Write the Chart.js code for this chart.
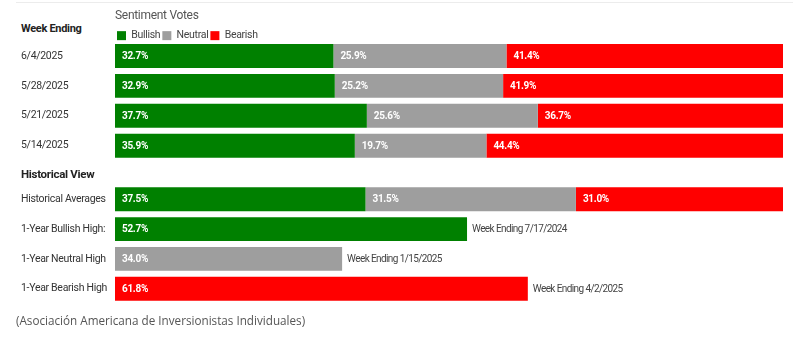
<!DOCTYPE html>
<html lang="es">
<head>
    <meta charset="UTF-8">
    <title>Sentiment Votes</title>
    <script src="https://cdn.jsdelivr.net/npm/chart.js"></script>
    <style>
        body { margin: 0; width: 795px; height: 340px; background: #fff; position: relative; overflow: hidden; font-family: Roboto, sans-serif; }
        .topline { position: absolute; left: 16px; right: 2px; top: 2px; height: 1px; background: #ececec; }
        .head { position: absolute; left: 21px; font-weight: bold; color: #222; letter-spacing: -0.3px; }
        .box { position: absolute; left: 0; width: 795px; }
        .source { position: absolute; left: 16px; top: 312px; font-family: 'Open Sans', sans-serif; font-size: 11.7px; color: #555; }
    </style>
</head>
<body>
    <div class="topline"></div>
    <div class="head" style="top:22px;font-size:11px;">Week Ending</div>
    <div class="box" style="top:0;height:170px;"><canvas id="weeklyChart"></canvas></div>
    <div class="head" style="top:167px;font-size:11.5px;">Historical View</div>
    <div class="box" style="top:175px;height:138px;"><canvas id="historyChart"></canvas></div>
    <div class="source">(Asociación Americana de Inversionistas Individuales)</div>

    <script>
        // Datos semanales
        const weeks = ['6/4/2025', '5/28/2025', '5/21/2025', '5/14/2025'];
        const weekBullish = [32.7, 32.9, 37.7, 35.9];
        const weekNeutral = [25.9, 25.2, 25.6, 19.7];
        const weekBearish = [41.4, 41.9, 36.7, 44.4];

        // Vista histórica
        const histRows = ['Historical Averages', '1-Year Bullish High:', '1-Year Neutral High', '1-Year Bearish High'];
        const histBullish = [37.5, 52.7, null, null];
        const histNeutral = [31.5, null, 34.0, null];
        const histBearish = [31.0, null, null, 61.8];
        const histNotes = ['', 'Week Ending 7/17/2024', 'Week Ending 1/15/2025', 'Week Ending 4/2/2025'];

        const GREEN = '#008000', GRAY = '#9e9e9e', RED = '#ff0000';
        const FONT = 'Roboto, sans-serif';

        // texto un poco más estrecho, como en el original
        const tightText = {
            id: 'tightText',
            beforeLayout(chart) { chart.ctx.letterSpacing = '-0.3px'; },
            beforeDraw(chart) { chart.ctx.letterSpacing = '-0.3px'; }
        };

        // etiquetas blancas dentro de cada barra + notas a la derecha
        const barLabels = {
            id: 'barLabels',
            afterDatasetsDraw(chart, args, opts) {
                const ctx = chart.ctx;
                ctx.save();
                ctx.textBaseline = 'middle';
                ctx.textAlign = 'left';
                ctx.letterSpacing = '-0.3px';
                const lastEnd = [];
                chart.data.datasets.forEach((ds, i) => {
                    const meta = chart.getDatasetMeta(i);
                    meta.data.forEach((bar, j) => {
                        const v = ds.data[j];
                        if (v === null || v === undefined) return;
                        ctx.font = 'bold 10px ' + FONT;
                        ctx.fillStyle = '#fff';
                        ctx.fillText(v.toFixed(1) + '%', bar.base + 7, bar.y + 0.5);
                        lastEnd[j] = { x: bar.x, y: bar.y };
                    });
                });
                if (opts.notes) {
                    ctx.font = '10px ' + FONT;
                    ctx.letterSpacing = '-0.6px';
                    ctx.fillStyle = '#444';
                    opts.notes.forEach((t, j) => {
                        if (t && lastEnd[j]) ctx.fillText(t, lastEnd[j].x + 5, lastEnd[j].y + 0.5);
                    });
                }
                ctx.restore();
            }
        };

        function scales() {
            return {
                x: { stacked: true, min: 0, max: 100, display: false },
                y: {
                    stacked: true,
                    grid: { display: false },
                    border: { display: false },
                    ticks: { crossAlign: 'far', color: '#333', font: { family: FONT, size: 10.5 } },
                    afterFit: (s) => { s.width = 94; }
                }
            };
        }

        function sets(b, n, r) {
            const common = { barPercentage: 0.8, categoryPercentage: 1 };
            return [
                Object.assign({ label: 'Bullish', data: b, backgroundColor: GREEN }, common),
                Object.assign({ label: 'Neutral', data: n, backgroundColor: GRAY }, common),
                Object.assign({ label: 'Bearish', data: r, backgroundColor: RED }, common)
            ];
        }

        new Chart(document.getElementById('weeklyChart'), {
            type: 'bar',
            data: { labels: weeks, datasets: sets(weekBullish, weekNeutral, weekBearish) },
            options: {
                indexAxis: 'y',
                responsive: true,
                maintainAspectRatio: false,
                animation: false,
                layout: { autoPadding: false, padding: { top: 9, left: 21, right: 12, bottom: 0 } },
                scales: scales(),
                plugins: {
                    tooltip: { enabled: false },
                    legend: {
                        position: 'top',
                        align: 'start',
                        fullSize: false,
                        maxHeight: 32,
                        labels: { boxWidth: 9, boxHeight: 9, padding: 2, color: '#444', font: { family: FONT, size: 10.5 } },
                        title: { display: true, text: 'Sentiment Votes', color: '#555', position: 'start', padding: { top: 1, bottom: 4 }, font: { family: FONT, size: 12 } }
                    },
                    barLabels: {}
                }
            },
            plugins: [tightText, barLabels]
        });

        new Chart(document.getElementById('historyChart'), {
            type: 'bar',
            data: { labels: histRows, datasets: sets(histBullish, histNeutral, histBearish) },
            options: {
                indexAxis: 'y',
                responsive: true,
                maintainAspectRatio: false,
                animation: false,
                layout: { autoPadding: false, padding: { top: 0, left: 21, right: 12, bottom: 0 } },
                scales: scales(),
                plugins: {
                    tooltip: { enabled: false },
                    legend: { display: false },
                    barLabels: { notes: histNotes }
                }
            },
            plugins: [tightText, barLabels]
        });
    </script>
</body>
</html>
